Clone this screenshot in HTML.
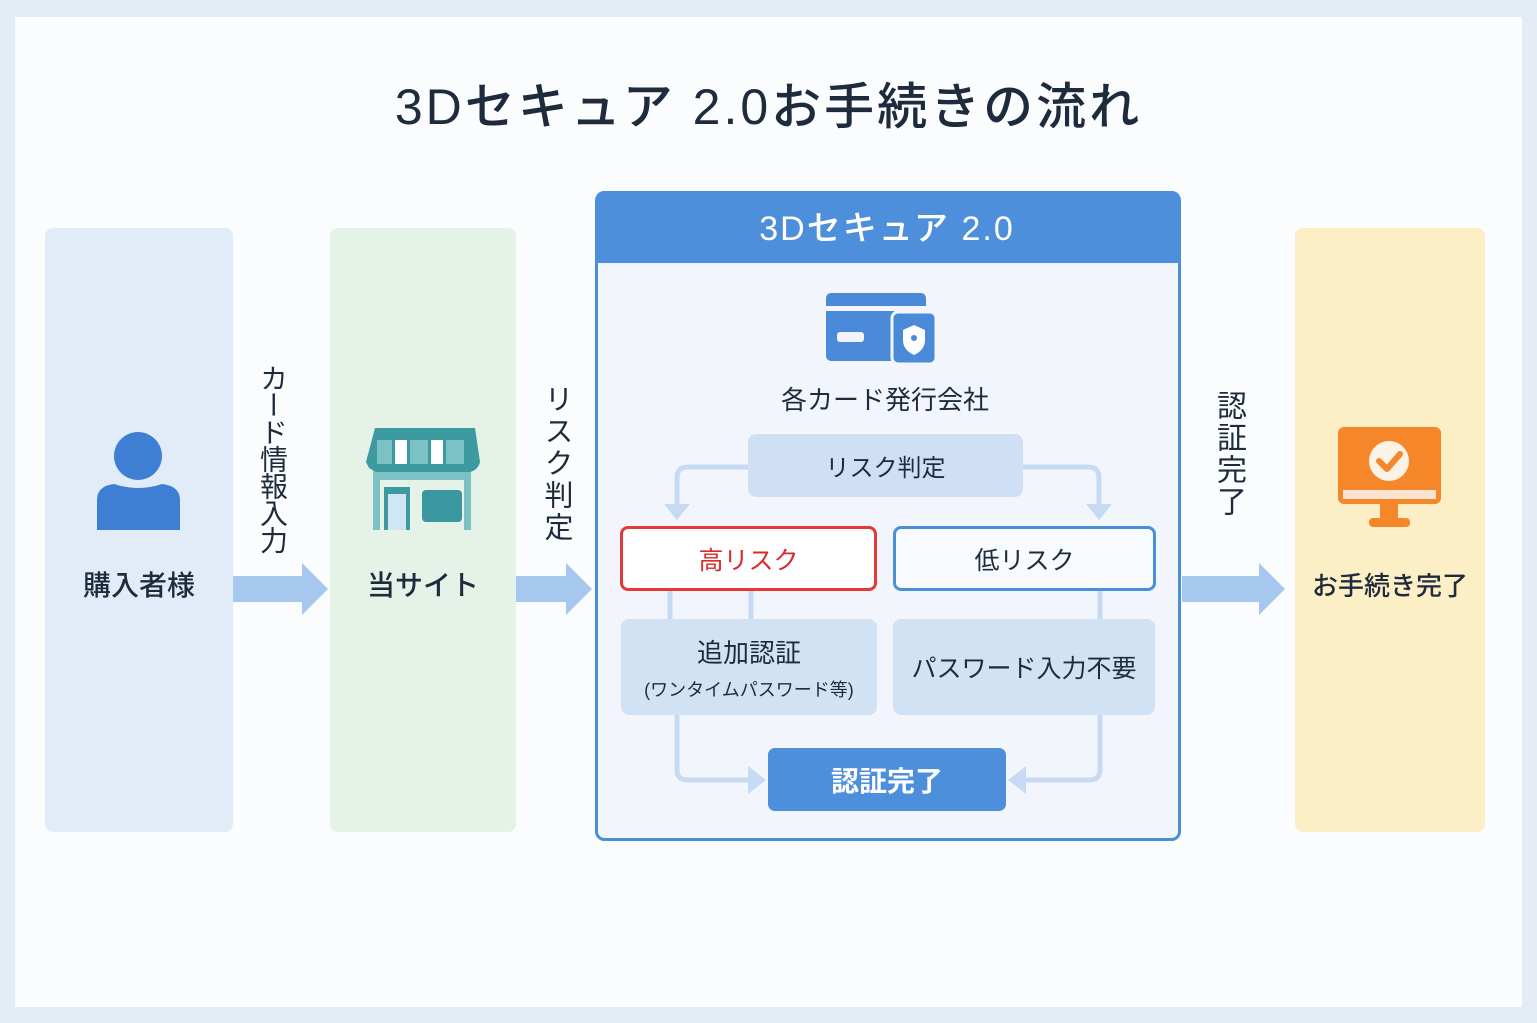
<!DOCTYPE html>
<html><head><meta charset="utf-8"><style>
body{margin:0;width:1537px;height:1023px;background:#e4edf6;overflow:hidden;font-family:"Liberation Sans","Noto Sans CJK JP",sans-serif;color:#1e2b3d}
.a{position:absolute}
.c{display:flex;align-items:center;justify-content:center;text-align:center}
.v{position:absolute;writing-mode:vertical-rl;font-size:28px;letter-spacing:-1px;color:#1e2b3d;line-height:1}
</style></head><body>
<div class="a" style="left:15px;top:17px;width:1507px;height:990px;background:#fbfcfe"></div>
<div class="a c" style="left:0;top:70px;width:1537px;height:66px;font-size:50px;font-weight:500;letter-spacing:3px">3Dセキュア 2.0お手続きの流れ</div>

<div class="a" style="left:45px;top:228px;width:188px;height:604px;background:#e2ecf8;border-radius:8px"></div>
<div class="a" style="left:330px;top:228px;width:186px;height:604px;background:#e5f2e7;border-radius:8px"></div>
<div class="a" style="left:1295px;top:228px;width:190px;height:604px;background:#fcefc6;border-radius:8px"></div>

<svg class="a" style="left:0;top:0" width="1537" height="1023">
<g fill="#a6c7ee">
<path d="M233 576H302V563L328 589L302 615V602H233Z"/>
<path d="M516 576H566V563L592 589L566 615V602H516Z"/>
<path d="M1182 576H1259V563L1285 589L1259 615V602H1182Z"/>
</g>
<circle cx="138" cy="456" r="24" fill="#3f7fd3"/>
<path d="M97 530V500Q97 486 114 484Q138 492 162 484Q180 486 180 500V530Z" fill="#3f7fd3"/>
<rect x="373" y="468" width="98" height="62" fill="#7cc2c4"/>
<rect x="380" y="480" width="84" height="50" fill="#e5f2e7"/>
<rect x="384" y="487" width="26" height="43" fill="#3d9aa0"/><rect x="388" y="494" width="18" height="36" fill="#cfe6f3"/>
<rect x="422" y="490" width="40" height="32" rx="4" fill="#3a97a0"/>
<path d="M375 428H475L480 462H366Z" fill="#3d9aa0"/>
<path d="M369 468Q366 462 366 462H480Q478 470 470 472H376Z" fill="#3d9aa0"/>
<g fill="#fff"><rect x="395" y="440" width="12" height="24"/><rect x="431" y="440" width="12" height="24"/></g>
<g fill="#7cc2c4"><rect x="410" y="440" width="18" height="24"/><rect x="446" y="440" width="18" height="24"/><rect x="377" y="440" width="15" height="24"/></g>
<rect x="596.5" y="192.5" width="583" height="647" rx="8" fill="#f2f6fc" stroke="#4a90d9" stroke-width="3"/>
<path d="M596 200Q596 191 605 191H1171Q1180 191 1180 200V263H596Z" fill="#4e8fdc"/>
<text x="887" y="240" fill="#fff" font-size="34" text-anchor="middle" letter-spacing="2" font-family="Liberation Sans,Noto Sans CJK JP,sans-serif" font-weight="500">3Dセキュア 2.0</text>
<rect x="826" y="293" width="100" height="68" rx="5" fill="#4a8ad9"/>
<rect x="826" y="306" width="100" height="5" fill="#f2f6fc"/>
<rect x="837" y="332" width="27" height="10" rx="3" fill="#f2f6fc"/>
<rect x="892" y="312" width="44" height="52" rx="6" fill="#4a8ad9" stroke="#f2f6fc" stroke-width="3"/>
<path d="M914 325L925 330V340Q925 350 914 355Q903 350 903 340V330Z" fill="#fff"/><circle cx="914" cy="338" r="3" fill="#4a8ad9"/>
<g fill="none" stroke="#c6dbf3" stroke-width="5">
<path d="M748 467H688Q677 467 677 478V505"/>
<path d="M1023 467H1088Q1099 467 1099 478V505"/>
<path d="M670 591V619M751 591V619M1100 591V619"/>
<path d="M677 715V770Q677 780 688 780H750"/>
<path d="M1100 715V770Q1100 780 1089 780H1025"/>
</g>
<g fill="#c6dbf3">
<path d="M664 504H690L677 520Z"/><path d="M1086 504H1112L1099 520Z"/>
<path d="M748 766V794L766 780Z"/><path d="M1026 766V794L1008 780Z"/>
</g>
<rect x="1338" y="427" width="103" height="77" rx="6" fill="#f6862a"/>
<rect x="1343" y="490" width="93" height="9" fill="#fbe3cf"/>
<rect x="1380" y="504" width="18" height="16" fill="#f6862a"/>
<rect x="1369" y="518" width="41" height="9" rx="4" fill="#f6862a"/>
<circle cx="1389" cy="461" r="20" fill="#fdf2e6"/>
<path d="M1379 461L1387 469L1400 454" fill="none" stroke="#f6862a" stroke-width="6" stroke-linecap="round" stroke-linejoin="round"/>
</svg>

<div class="a c" style="left:45px;top:562px;width:188px;height:44px;font-size:28px;font-weight:500">購入者様</div>
<div class="a c" style="left:330px;top:562px;width:186px;height:44px;font-size:28px;font-weight:500">当サイト</div>
<div class="a c" style="left:1295px;top:562px;width:190px;height:44px;font-size:26px;font-weight:500">お手続き完了</div>

<div class="v" style="left:258px;top:364px">カード情報入力</div>
<div class="v" style="left:541px;top:384px;font-size:29px;letter-spacing:3px">リスク判定</div>
<div class="v" style="left:1213px;top:390px;font-size:30px;letter-spacing:2px">認証完了</div>

<div class="a c" style="left:700px;top:378px;width:370px;height:40px;font-size:26px">各カード発行会社</div>
<div class="a c" style="left:748px;top:434px;width:275px;height:63px;background:#cfe0f5;border-radius:8px;font-size:24px">リスク判定</div>
<div class="a c" style="left:620px;top:526px;width:251px;height:59px;border:3px solid #e53935;border-radius:8px;background:#fff;color:#d92b2b;font-size:25px">高リスク</div>
<div class="a c" style="left:893px;top:526px;width:257px;height:59px;border:3px solid #4a90d9;border-radius:8px;background:#f7faff;font-size:25px">低リスク</div>
<div class="a c" style="left:621px;top:619px;width:256px;height:96px;background:#d2e2f5;border-radius:8px;flex-direction:column"><div style="font-size:26px">追加認証</div><div style="font-size:18px;margin-top:6px">(ワンタイムパスワード等)</div></div>
<div class="a c" style="left:893px;top:619px;width:262px;height:96px;background:#d2e2f5;border-radius:8px;font-size:25px">パスワード入力不要</div>
<div class="a c" style="left:768px;top:748px;width:238px;height:63px;background:#4e8fdc;border-radius:7px;color:#fff;font-size:28px;font-weight:bold">認証完了</div>
</body></html>
